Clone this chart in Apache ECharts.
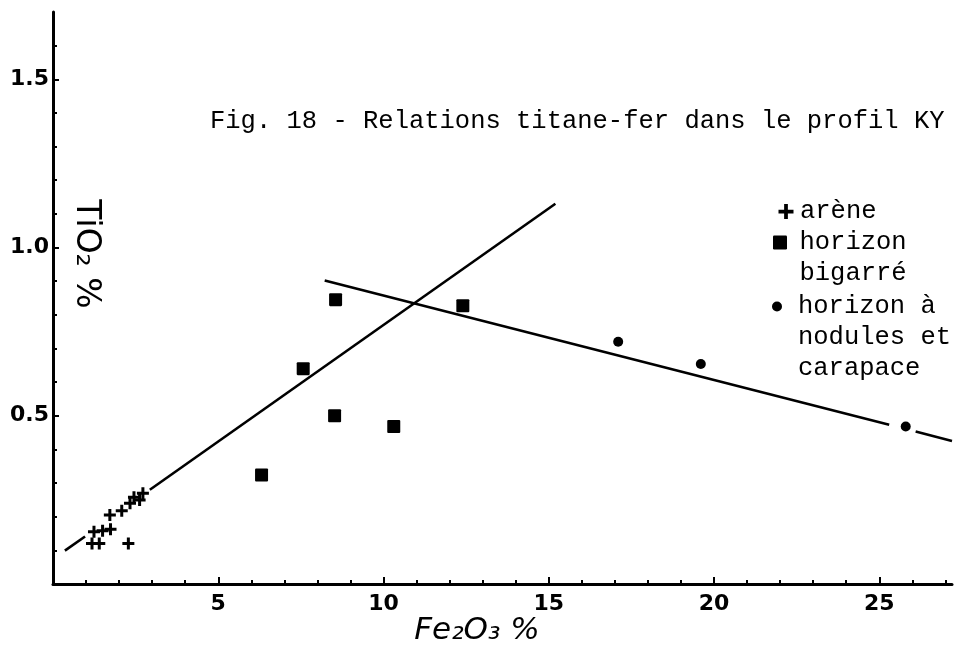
<!DOCTYPE html>
<html>
<head>
<meta charset="utf-8">
<script src="https://cdn.jsdelivr.net/npm/echarts@6/dist/echarts.min.js"></script>
<style>
  html, body { margin: 0; padding: 0; background: #ffffff; }
  #chart { width: 961px; height: 648px; }
</style>
</head>
<body>
<div id="chart"></div>
<script>
// Profil KY : teneurs en Fe2O3 (%) et TiO2 (%) par horizon
const areneFe = [1.18, 1.40, 1.24, 1.50, 1.74, 1.72, 2.08, 2.33, 2.45, 2.62, 2.72, 2.28];
const areneTi = [0.12, 0.12, 0.155, 0.158, 0.163, 0.205, 0.218, 0.24, 0.258, 0.25, 0.27, 0.12];

const bigarreFe = [8.55, 12.4, 7.57, 8.52, 10.31, 6.31];
const bigarreTi = [0.845, 0.827, 0.64, 0.50, 0.468, 0.324];

const nodulesFe = [17.1, 19.6, 25.8];
const nodulesTi = [0.72, 0.654, 0.468];

// Droites tracées à la main (extrémités des segments, interrompues au droit des symboles)
const droiteAFe = [0.36, 0.97, 2.93, 15.2];
const droiteATi = [0.099, 0.141, 0.28, 1.13];
const droiteBFe = [8.22, 25.3, 26.1, 27.2];
const droiteBTi = [0.902, 0.473, 0.453, 0.425];

// Graduations
const xLabels = [5, 10, 15, 20, 25];
const xTicks = [1, 2, 3, 4, 5, 6, 7, 8, 9, 10, 11, 12, 13, 14, 15, 16, 17, 18, 19, 20, 21, 22, 23, 24, 25, 26, 27];
const yLabels = [0.5, 1.0, 1.5];
const yTicks = [0.1, 0.2, 0.3, 0.4, 0.5, 0.6, 0.7, 0.8, 0.9, 1.0, 1.1, 1.2, 1.3, 1.4, 1.5, 1.6];

const serieNames = ['arène', 'horizon bigarré', 'horizon à nodules et carapace'];
const legendLines = [['arène'], ['horizon', 'bigarré'], ['horizon à', 'nodules et', 'carapace']];

const INK = '#000000';
const TYPE_FONT = 'Liberation Mono';
const PLUS = 'path://M4.5,0H7.5V4.5H12V7.5H7.5V12H4.5V7.5H0V4.5H4.5Z';
const SQUARE = 'path://M1,0H11Q12,0,12,1V11Q12,12,11,12H1Q0,12,0,11V1Q0,0,1,0Z';
const DOT = 'path://M5,0A5,5,0,1,1,5,10A5,5,0,1,1,5,0Z';

const pairs = (xs, ys) => xs.map((x, i) => [x, ys[i]]);

function segment(xs, ys, a, b) {
  return {
    type: 'line',
    xAxisIndex: 0,
    yAxisIndex: 0,
    data: [[xs[a], ys[a]], [xs[b], ys[b]]],
    symbol: 'none',
    silent: true,
    z: 2,
    lineStyle: { color: INK, width: 2.6 }
  };
}

const legendFont = { fontFamily: TYPE_FONT, fontSize: 25.5, lineHeight: 31, color: INK };

// Each legend entry is its own block; empty leading lines keep the
// symbol level with the first line of a multi-line label.
function legendBlock(i, icon, left, top, w, h) {
  const lines = legendLines[i];
  const label = new Array(lines.length - 1).fill('').concat(lines).join('\n');
  return {
    orient: 'vertical',
    left: left,
    top: top,
    padding: 0,
    itemWidth: w,
    itemHeight: h,
    selectedMode: false,
    symbolKeepAspect: true,
    textStyle: legendFont,
    formatter: () => label,
    data: [{ name: serieNames[i], icon: icon }]
  };
}

const chart = echarts.init(document.getElementById('chart'), null, { renderer: 'canvas' });

chart.setOption({
  animation: false,
  backgroundColor: '#ffffff',
  title: {
    text: 'Fig. 18 - Relations titane-fer dans le profil KY',
    left: 210,
    top: 108,
    padding: 0,
    textStyle: { fontFamily: TYPE_FONT, fontSize: 25.5, fontWeight: 'normal', color: INK }
  },
  legend: [
    legendBlock(0, PLUS, 778.5, 196, 18, 15),
    legendBlock(1, SQUARE, 773, 196, 29, 14),
    legendBlock(2, DOT, 772, 229, 32, 10)
  ],
  grid: { left: 53, right: 9, top: 12, bottom: 64, containLabel: false },
  xAxis: [
    {
      type: 'value', position: 'bottom', min: 0, max: 27.2,
      axisLine: { lineStyle: { color: INK, width: 3 } },
      axisTick: { inside: true, length: 4, customValues: xTicks, lineStyle: { color: INK, width: 2 } },
      axisLabel: { show: false },
      splitLine: { show: false }
    },
    {
      type: 'value', position: 'bottom', min: 0, max: 27.2,
      axisLine: { show: false },
      axisTick: { inside: true, length: 7, customValues: xLabels, lineStyle: { color: INK, width: 2 } },
      axisLabel: {
        customValues: xLabels, margin: 9, color: INK,
        fontFamily: 'DejaVu Sans', fontWeight: 'bold', fontSize: 22
      },
      splitLine: { show: false }
    }
  ],
  yAxis: [
    {
      type: 'value', position: 'left', min: 0, max: 1.7,
      axisLine: { lineStyle: { color: INK, width: 3 } },
      axisTick: { inside: true, length: 4, customValues: yTicks, lineStyle: { color: INK, width: 2 } },
      axisLabel: { show: false },
      splitLine: { show: false }
    },
    {
      type: 'value', position: 'left', min: 0, max: 1.7,
      axisLine: { show: false },
      axisTick: { inside: true, length: 6, customValues: yLabels, lineStyle: { color: INK, width: 2 } },
      axisLabel: {
        customValues: yLabels, margin: 4, color: INK,
        fontFamily: 'DejaVu Sans', fontWeight: 'bold', fontSize: 22,
        formatter: v => v.toFixed(1)
      },
      splitLine: { show: false }
    }
  ],
  graphic: [
    {
      type: 'text', x: 477, y: 631,
      style: {
        text: 'Fe₂O₃ %', fill: INK, align: 'center', verticalAlign: 'middle',
        font: 'italic 31px "DejaVu Sans"'
      }
    },
    {
      type: 'text', x: 86, y: 254, rotation: -Math.PI / 2,
      style: {
        text: 'TiO₂ %', fill: INK, align: 'center', verticalAlign: 'middle',
        font: '33px "DejaVu Sans"'
      }
    }
  ],
  series: [
    segment(droiteAFe, droiteATi, 0, 1),
    segment(droiteAFe, droiteATi, 2, 3),
    segment(droiteBFe, droiteBTi, 0, 1),
    segment(droiteBFe, droiteBTi, 2, 3),
    {
      name: serieNames[0], type: 'scatter', z: 3,
      symbol: PLUS, symbolSize: 12,
      itemStyle: { color: INK, opacity: 1 },
      data: pairs(areneFe, areneTi)
    },
    {
      name: serieNames[1], type: 'scatter', z: 3,
      symbol: SQUARE, symbolSize: 13,
      itemStyle: { color: INK, opacity: 1 },
      data: pairs(bigarreFe, bigarreTi)
    },
    {
      name: serieNames[2], type: 'scatter', z: 3,
      symbol: DOT, symbolSize: 10,
      itemStyle: { color: INK, opacity: 1 },
      data: pairs(nodulesFe, nodulesTi)
    }
  ]
});
</script>
</body>
</html>
